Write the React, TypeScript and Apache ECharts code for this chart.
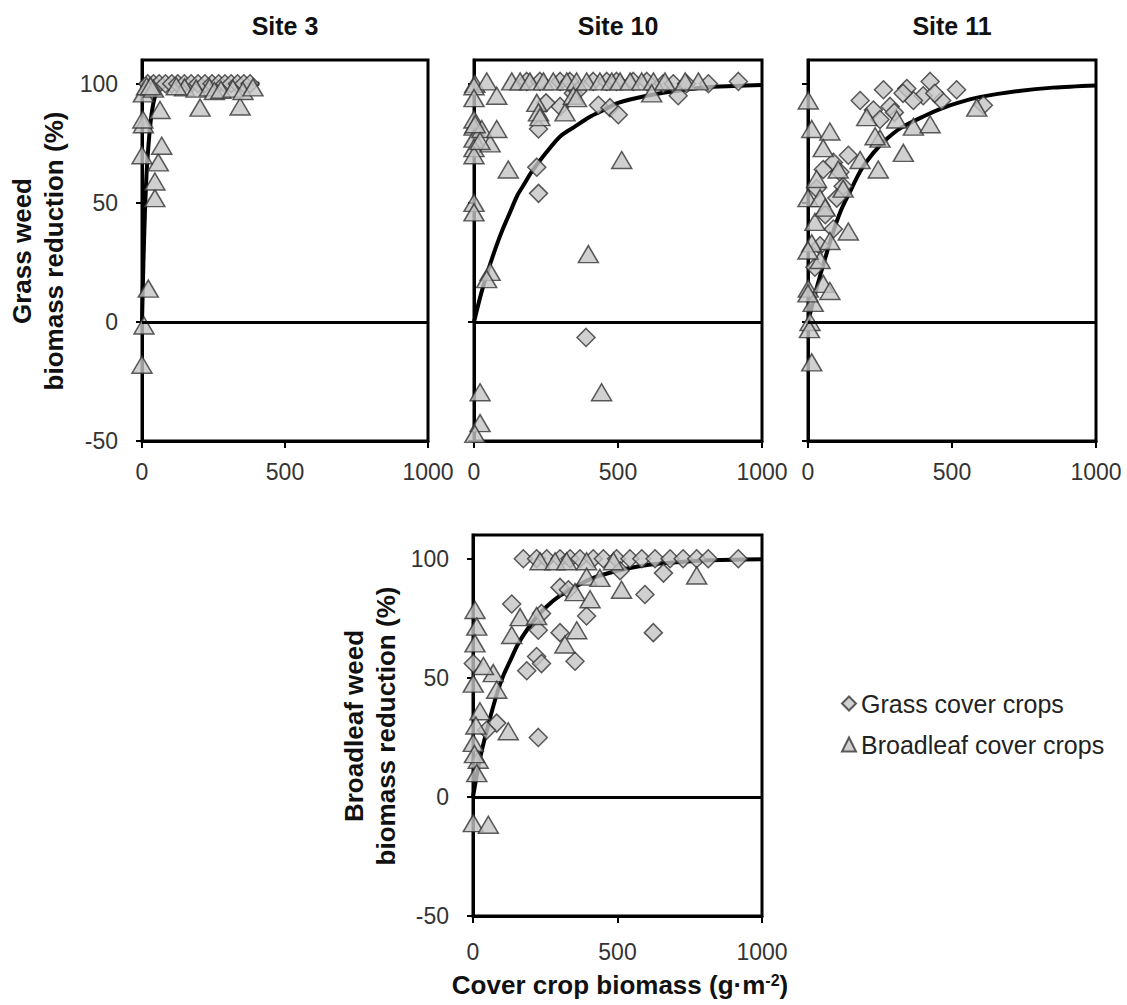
import React, { useEffect, useRef } from 'react';
import * as echarts from 'echarts';

const FONT = "'Liberation Sans', Arial, sans-serif";

// Panel titles and axis texts
const panelTitles = ['Site 3', 'Site 10', 'Site 11'];
const yTitleTop = 'Grass weed\nbiomass reduction (%)';
const yTitleBottom = 'Broadleaf weed\nbiomass reduction (%)';
const seriesNames = ['Grass cover crops', 'Broadleaf cover crops'];
const yTicks = [-50, 0, 50, 100];

// Site 3 (grass weeds)
const site3Grass = [[20,100],[40,100],[60,100],[82,100],[104,100],[125,100],[148,100],[172,100],[196,100],[220,100],[245,100],[268,100],[290,100],[312,100],[334,100],[356,100],[378,100]];
const site3Broad = [[0,-18],[7,-1.5],[22,14],[45,52],[45,59],[57,67],[69,74],[0,70],[5,83],[63,89],[5,96],[16,99],[40,98],[203,90],[343,90.5],[149,98.5],[189,98],[236,98.5],[253,97],[276,97.5],[318,98],[353,97],[388,98.5],[3,85],[30,99],[120,99]];
const site3Curve = [[0,0],[5,25],[10,45],[15,60],[20,70],[30,84],[40,92],[50,96],[70,99],[100,100],[410,100]];

// Site 10 (grass weeds)
const site10Grass = [[183,101],[229,101],[299,101],[333,101],[414,101],[461,101],[495,101],[553,101],[600,101],[657,100],[692,100],[738,100],[814,100],[918,101],[224,81],[218,65],[224,54],[299,90.5],[432,91],[472,90],[501,87],[709,95],[389,-6.5],[345,96],[250,92],[360,97]];
const site10Broad = [[3,100],[44,101],[131,101],[160,101],[194,101],[241,101],[275,101],[322,101],[356,101],[391,101],[437,101],[478,101],[507,101],[542,101],[582,101],[623,101],[663,101],[733,101],[779,101],[0,99],[0,94],[0,85],[0,82],[0,77],[0,73],[0,70],[0,50],[0,46],[27,81],[56,75],[79,81],[79,95],[4,83],[21,76],[56,21],[44,18],[119,64],[513,68],[397,28.5],[443,-29.5],[21,-29.5],[21,-42.5],[3,-47],[218,92],[224,88],[229,86],[316,88],[345,95],[356,94],[617,96]];
const site10Curve = [[0,0],[25,12],[50,22],[75,31],[100,39],[125,46],[150,53],[175,58],[200,63],[250,71],[300,78],[350,82],[400,86],[450,89],[500,92],[600,95],[700,97],[800,98.5],[900,99.1],[1000,99.5]];

// Site 11 (grass weeds)
const site11Grass = [[181,93],[262,97.5],[343,98],[424,101],[516,97.5],[464,93],[400,95],[285,90.5],[366,93],[609,91],[227,89],[140,70],[88,67],[53,64],[111,63],[122,57],[100,52],[88,39],[42,32],[24,23],[300,88],[250,85],[330,96],[440,96],[30,56],[60,45]];
const site11Broad = [[1,93],[13,81],[76,80],[53,73],[204,86],[250,77],[308,85],[366,82],[424,83],[586,90],[331,71],[244,64],[140,38],[181,68],[105,64],[122,56],[0,52],[42,52],[24,42],[13,33],[76,34],[42,26],[1,14],[53,16],[76,13],[18,8],[7,0],[13,-17],[233,78],[0,30],[0,12],[5,-3],[30,60],[60,48]];
const site11Curve = [[0,0],[25,12],[53,24],[88,38],[115,47],[143,54],[185,64],[227,71],[275,77],[323,81.5],[404,86.5],[460,89.5],[520,92],[600,94.5],[732,97],[850,98.4],[1000,99.3]];

// Pooled (broadleaf weeds)
const bottomGrass = [[174,100],[220,100],[255,100],[301,100],[336,100],[370,100],[416,100],[451,100],[497,100],[543,100],[584,100],[630,100],[682,100],[727,100],[774,100],[814,100],[918,100],[301,88],[330,87],[134,81],[237,77],[393,76],[595,85],[624,69],[226,70],[301,69],[220,59],[237,56],[353,57],[186,53],[1,56],[226,25],[82,31],[47,28],[659,94],[509,95]];
const bottomBroad = [[232,99],[284,99],[324,99],[393,99],[486,99],[393,92.5],[439,92],[514,87],[353,86],[405,83],[774,93],[163,75.5],[220,76],[134,68],[359,70],[318,64],[70,52],[82,45],[7,78.5],[13,71.5],[7,64.5],[1,47.6],[24,36],[122,27.6],[1,22.7],[18,15.6],[13,10],[1,-11],[53,-11.7],[36,55],[10,30],[5,18]];
const bottomCurve = [[0,0],[24,16],[50,29],[82,43],[105,51],[128,57],[155,64],[186,70],[220,75.5],[255,80],[301,84.5],[350,88],[416,92],[500,95],[570,96.8],[647,98],[800,99.3],[1000,99.8]];

const panels = [
  { grass: site3Grass, broad: site3Broad, curve: site3Curve },
  { grass: site10Grass, broad: site10Broad, curve: site10Curve },
  { grass: site11Grass, broad: site11Broad, curve: site11Curve },
  { grass: bottomGrass, broad: bottomBroad, curve: bottomCurve },
];

const gridBoxes = [
  { left: 142, top: 60, width: 286, height: 381 },
  { left: 474, top: 60, width: 288, height: 381 },
  { left: 808, top: 60, width: 288, height: 381 },
  { left: 473, top: 535, width: 289, height: 381 },
];

export default function App() {
  const ref = useRef<HTMLDivElement>(null);
  useEffect(() => {
    if (!ref.current) return;
    const chart = echarts.init(ref.current, undefined, { renderer: 'svg' });
    const markerStyle = { color: '#c4c4c4', borderColor: '#333', borderWidth: 1.5 };
    const grid = gridBoxes.map((g) => ({ ...g, show: true, borderColor: '#000', borderWidth: 3, backgroundColor: 'transparent' }));
    const xAxis = gridBoxes.map((_, i) => ({
      gridIndex: i, type: 'value', min: 0, max: 1000, interval: 500,
      axisLine: { show: true, onZero: false, lineStyle: { color: '#000', width: 3 } },
      axisTick: { show: true, inside: false, length: 7, lineStyle: { color: '#000', width: 2 } },
      axisLabel: { margin: i === 3 ? 24 : 19, fontSize: 23, color: '#333', fontFamily: FONT, formatter: (v: number) => String(v) },
      splitLine: { show: false },
    }));
    const yAxis = gridBoxes.map((_, i) => ({
      gridIndex: i, type: 'value', min: -50, max: 110, interval: 50,
      axisLine: { show: true, onZero: false, lineStyle: { color: '#000', width: 3 } },
      axisTick: { show: true, inside: false, length: 6, customValues: yTicks, lineStyle: { color: '#000', width: 2 } },
      axisLabel: { show: i === 0 || i === 3, customValues: yTicks, margin: 24, fontSize: 23, color: '#333', fontFamily: FONT, formatter: (v: number) => String(v) },
      splitLine: { show: false },
    }));
    const series: any[] = [];
    panels.forEach((p, i) => {
      series.push({
        type: 'line', xAxisIndex: i, yAxisIndex: i, data: p.curve, smooth: 0.3,
        symbol: 'none', lineStyle: { color: '#000', width: 4 }, z: 2, silent: true,
        markLine: { silent: true, symbol: 'none', label: { show: false }, lineStyle: { color: '#000', width: 3, type: 'solid' }, data: [{ yAxis: 0 }] },
      });
      series.push({
        type: 'scatter', name: seriesNames[0], xAxisIndex: i, yAxisIndex: i, data: p.grass, clip: false,
        symbol: 'diamond', symbolSize: [18, 18], itemStyle: markerStyle, z: 3,
      });
      series.push({
        type: 'scatter', name: seriesNames[1], xAxisIndex: i, yAxisIndex: i, data: p.broad, clip: false,
        symbol: 'triangle', symbolSize: [20, 17], itemStyle: markerStyle, z: 4,
      });
    });
    const titleCenters = [285, 618, 952];
    const graphic: any[] = panelTitles.map((t, i) => ({
      type: 'text', x: titleCenters[i], y: 26,
      style: { text: t, fontSize: 25, fontWeight: 'bold', fontFamily: FONT, fill: '#111', align: 'center', verticalAlign: 'middle' },
    }));
    graphic.push({
      type: 'text', x: 38, y: 251, rotation: Math.PI / 2,
      style: { text: yTitleTop, fontSize: 26, fontWeight: 'bold', fontFamily: FONT, fill: '#111', align: 'center', verticalAlign: 'middle', lineHeight: 32 },
    });
    graphic.push({
      type: 'text', x: 370, y: 726, rotation: Math.PI / 2,
      style: { text: yTitleBottom, fontSize: 26, fontWeight: 'bold', fontFamily: FONT, fill: '#111', align: 'center', verticalAlign: 'middle', lineHeight: 32 },
    });
    graphic.push({
      type: 'text', x: 620, y: 985,
      style: {
        text: 'Cover crop biomass (g·m{sup|-2})',
        fontSize: 26, fontWeight: 'bold', fontFamily: FONT, fill: '#111', align: 'center', verticalAlign: 'middle',
        rich: { sup: { fontSize: 16, fontWeight: 'bold', fontFamily: FONT, fill: '#111', verticalAlign: 'top', lineHeight: 26 } },
      },
    });
    chart.setOption({
      animation: false,
      backgroundColor: '#fff',
      grid, xAxis, yAxis, series, graphic,
      legend: {
        data: [{ name: seriesNames[0], icon: 'diamond' }, { name: seriesNames[1], icon: 'triangle' }],
        orient: 'vertical', left: 836, top: 686, itemWidth: 14, itemHeight: 14, itemGap: 16,
        selectedMode: false,
        textStyle: { fontSize: 25, color: '#222', fontFamily: FONT },
      },
    });
    return () => chart.dispose();
  }, []);
  return <div ref={ref} style={{ position: 'absolute', left: 0, top: 0, width: 1127, height: 1005 }} />;
}
